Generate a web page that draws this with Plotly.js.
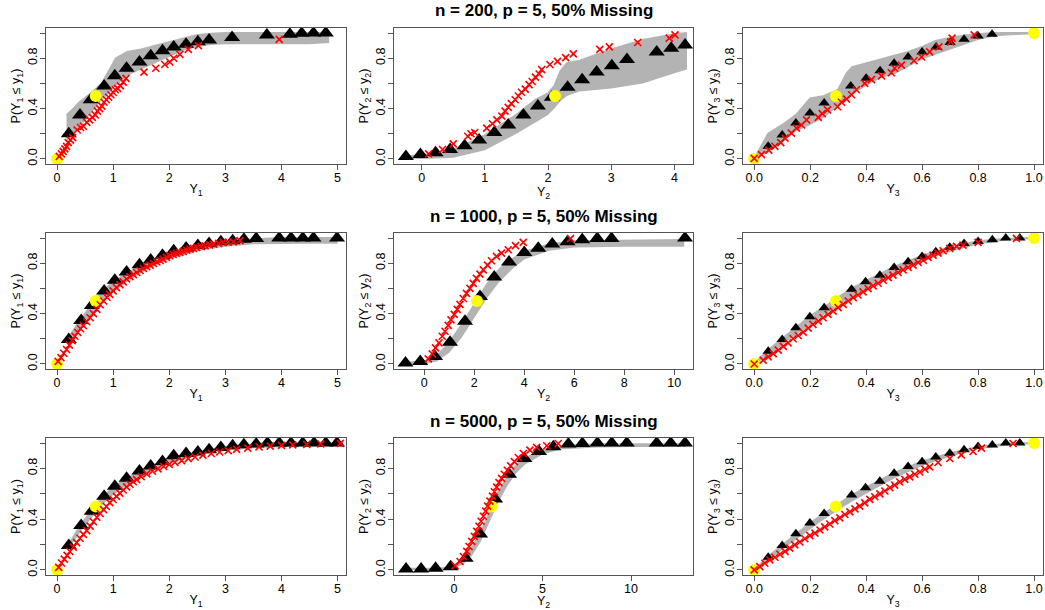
<!DOCTYPE html>
<html>
<head>
<meta charset="utf-8">
<script src="https://cdn.plot.ly/plotly-3.0.1.min.js"></script>
<style>html,body{margin:0;padding:0;background:#fff;}#chart{width:1045px;height:610px;}</style>
</head>
<body>
<div id="chart"></div>
<script>
// ---------- DATA ----------
const rowTitles = ["n = 200, p = 5, 50% Missing", "n = 1000, p = 5, 50% Missing", "n = 5000, p = 5, 50% Missing"];
const varIdx = ["1", "2", "3"];

// Yellow reference points (same per column)
const yel1_x = [0, 0.69], yel1_y = [0, 0.5];
const yel2_x = [2.11], yel2_y = [0.5];
const yel3_x = [0, 0.292, 1.0], yel3_y = [0, 0.5, 1.0];

// ----- Row 1 (n = 200) -----
const tri11_x = [0.21,0.41,0.60,0.84,1.03,1.24,1.47,1.67,1.88,2.08,2.30,2.51,2.71,3.12,3.74,4.15,4.36,4.57,4.79];
const tri11_y = [0.20,0.35,0.47,0.58,0.66,0.72,0.77,0.82,0.86,0.89,0.91,0.93,0.945,0.965,0.985,0.99,0.998,1.0,1.0];
const red11_x = [0.04,0.08,0.11,0.14,0.17,0.20,0.24,0.28,0.36,0.42,0.47,0.53,0.58,0.63,0.68,0.72,0.76,0.80,0.84,0.88,0.92,0.96,1.00,1.04,1.08,1.13,1.18,1.23,1.55,1.76,1.92,2.01,2.08,2.19,2.34,2.52,3.96];
const red11_y = [0.02,0.04,0.06,0.08,0.10,0.13,0.15,0.17,0.23,0.25,0.26,0.29,0.31,0.33,0.35,0.38,0.40,0.42,0.45,0.47,0.49,0.51,0.53,0.55,0.56,0.58,0.61,0.64,0.69,0.72,0.75,0.77,0.80,0.83,0.87,0.90,0.95];
const band11_x = [0.17,0.25,0.4,0.6,0.8,0.95,1.05,1.25,1.5,1.75,2.0,2.25,2.5,2.75,3.0,3.5,4.0,4.5,4.85];
const band11_hi = [0.35,0.38,0.45,0.52,0.60,0.72,0.80,0.85,0.87,0.90,0.93,0.96,0.985,0.995,1.0,1.0,1.0,1.0,1.0];
const band11_lo = [0.14,0.18,0.25,0.36,0.47,0.53,0.58,0.66,0.71,0.76,0.81,0.86,0.89,0.905,0.91,0.91,0.91,0.91,0.92];

const tri12_x = [-0.25,-0.02,0.22,0.45,0.68,0.91,1.15,1.37,1.61,1.84,2.06,2.31,2.54,2.77,3.01,3.25,3.72,3.95,4.17];
const tri12_y = [0.02,0.035,0.05,0.075,0.105,0.15,0.21,0.27,0.35,0.42,0.49,0.57,0.63,0.69,0.74,0.79,0.85,0.88,0.905];
const red12_x = [0.11,0.33,0.50,0.73,0.78,0.84,1.03,1.12,1.19,1.27,1.32,1.37,1.42,1.48,1.53,1.58,1.64,1.70,1.75,1.80,1.86,1.90,2.03,2.15,2.28,2.40,2.82,2.97,3.42,3.92,4.01];
const red12_y = [0.04,0.075,0.12,0.18,0.20,0.21,0.245,0.28,0.31,0.34,0.38,0.41,0.44,0.47,0.50,0.53,0.555,0.59,0.615,0.65,0.675,0.71,0.75,0.775,0.805,0.835,0.87,0.89,0.925,0.96,0.985];
const band12_x = [-0.3,0.0,0.5,1.0,1.5,1.8,2.0,2.1,2.2,2.3,2.5,3.0,3.5,4.0,4.2];
const band12_hi = [0.02,0.03,0.07,0.19,0.35,0.47,0.52,0.58,0.70,0.76,0.78,0.87,0.945,0.99,1.0];
const band12_lo = [0.0,0.0,0.01,0.07,0.20,0.29,0.35,0.40,0.46,0.50,0.535,0.56,0.60,0.68,0.71];

const tri13_x = [0.05,0.10,0.149,0.199,0.25,0.345,0.40,0.45,0.50,0.55,0.60,0.65,0.70,0.75,0.80,0.85];
const tri13_y = [0.10,0.19,0.285,0.365,0.445,0.58,0.64,0.70,0.76,0.81,0.85,0.89,0.925,0.95,0.977,0.99];
const red13_x = [0.0,0.026,0.052,0.074,0.095,0.11,0.133,0.151,0.169,0.187,0.229,0.243,0.262,0.298,0.312,0.33,0.348,0.365,0.395,0.419,0.455,0.49,0.502,0.526,0.571,0.598,0.627,0.66,0.702,0.707,0.786];
const red13_y = [0.005,0.034,0.07,0.10,0.13,0.165,0.205,0.245,0.27,0.31,0.33,0.36,0.39,0.415,0.45,0.475,0.51,0.55,0.60,0.63,0.66,0.685,0.72,0.745,0.78,0.81,0.85,0.89,0.93,0.96,0.985];
const band13_x = [0.0,0.05,0.1,0.15,0.2,0.25,0.3,0.33,0.35,0.4,0.45,0.5,0.55,0.6,0.65,0.7,0.75,0.8,0.85,0.9,1.0];
const band13_hi = [0.0,0.2,0.27,0.35,0.48,0.50,0.55,0.68,0.73,0.76,0.79,0.82,0.85,0.89,0.94,0.96,0.98,0.99,1.0,1.0,1.0];
const band13_lo = [0.0,0.05,0.13,0.22,0.27,0.33,0.42,0.47,0.51,0.58,0.64,0.67,0.73,0.79,0.83,0.87,0.91,0.945,0.97,0.98,0.99];

// ----- Row 2 (n = 1000) -----
const tri21_x = [0.21,0.43,0.62,0.84,1.03,1.24,1.47,1.67,1.88,2.08,2.30,2.51,2.71,2.92,3.13,3.33,3.55,3.96,4.17,4.38,4.57,4.99];
const tri21_y = [0.194,0.346,0.465,0.58,0.665,0.73,0.787,0.825,0.864,0.90,0.92,0.94,0.957,0.97,0.978,0.99,0.997,1.0,1.0,1.0,1.0,1.0];
const red21_x = [0.02,0.07,0.12,0.17,0.22,0.27,0.32,0.37,0.42,0.47,0.53,0.59,0.65,0.71,0.77,0.83,0.89,0.94,1.00,1.06,1.12,1.18,1.24,1.30,1.36,1.42,1.48,1.54,1.60,1.66,1.72,1.78,1.84,1.89,1.95,2.01,2.07,2.13,2.19,2.25,2.31,2.37,2.43,2.49,2.57,2.64,2.72,2.79,2.88,2.96,3.05,3.14,3.26];
const red21_y = [0.02,0.05,0.085,0.115,0.15,0.185,0.22,0.25,0.28,0.305,0.335,0.367,0.40,0.433,0.47,0.50,0.53,0.553,0.58,0.606,0.63,0.652,0.675,0.694,0.71,0.726,0.742,0.758,0.772,0.785,0.798,0.81,0.822,0.832,0.846,0.86,0.869,0.878,0.886,0.894,0.903,0.912,0.918,0.925,0.932,0.939,0.946,0.952,0.958,0.965,0.968,0.97,0.979];
const band21_x = [0.2,0.4,0.6,0.8,1.0,1.25,1.5,1.75,2.0,2.5,3.0,3.5,4.0,4.5,5.0];
const band21_hi = [0.20,0.34,0.46,0.57,0.65,0.72,0.78,0.83,0.88,0.935,0.97,0.99,1.0,1.0,1.0];
const band21_lo = [0.15,0.27,0.38,0.48,0.57,0.65,0.72,0.78,0.83,0.895,0.93,0.95,0.955,0.955,0.955];

const tri22_x = [-0.75,-0.16,0.43,1.03,1.63,2.23,2.80,3.39,4.00,4.56,5.12,5.73,6.32,6.92,7.49,10.43];
const tri22_y = [0.008,0.02,0.06,0.173,0.34,0.535,0.69,0.81,0.886,0.918,0.952,0.97,0.987,0.997,0.997,1.0];
const red22_x = [0.16,0.32,0.45,0.59,0.72,0.83,0.96,1.07,1.20,1.32,1.43,1.56,1.69,1.83,1.96,2.09,2.23,2.36,2.53,2.69,2.89,3.09,3.36,3.65,3.96,5.85];
const red22_y = [0.04,0.08,0.128,0.168,0.22,0.26,0.306,0.35,0.394,0.434,0.473,0.52,0.56,0.60,0.64,0.68,0.713,0.747,0.785,0.82,0.854,0.88,0.907,0.94,0.965,0.995];
const band22_x = [-0.8,0.0,0.5,1.0,1.5,2.0,2.5,3.0,3.5,4.0,5.0,6.0,8.0,10.4];
const band22_hi = [0.01,0.02,0.06,0.17,0.31,0.47,0.63,0.75,0.83,0.89,0.95,0.975,0.98,0.985];
const band22_lo = [0.0,0.0,0.02,0.09,0.21,0.37,0.52,0.65,0.75,0.83,0.90,0.925,0.93,0.93];

const tri23_x = [0.05,0.10,0.149,0.199,0.25,0.348,0.398,0.449,0.50,0.55,0.60,0.649,0.699,0.75,0.80,0.851,0.899,0.949];
const tri23_y = [0.10,0.194,0.287,0.375,0.447,0.593,0.652,0.705,0.766,0.811,0.854,0.891,0.926,0.957,0.973,0.987,1.0,1.0];
const red23_x = [0.0,0.032,0.05,0.068,0.086,0.104,0.121,0.139,0.157,0.175,0.193,0.21,0.229,0.246,0.264,0.282,0.30,0.318,0.336,0.354,0.371,0.389,0.407,0.425,0.443,0.461,0.479,0.496,0.514,0.532,0.55,0.568,0.586,0.604,0.621,0.639,0.657,0.675,0.699,0.723,0.746,0.80,0.937];
const red23_y = [0.0,0.03,0.056,0.082,0.11,0.14,0.168,0.20,0.226,0.253,0.285,0.314,0.34,0.367,0.394,0.42,0.447,0.473,0.50,0.527,0.548,0.572,0.598,0.62,0.641,0.665,0.686,0.705,0.726,0.747,0.766,0.785,0.806,0.824,0.846,0.864,0.88,0.899,0.918,0.934,0.944,0.965,0.997];
const band23_x = [0.0,0.05,0.1,0.15,0.2,0.25,0.3,0.35,0.4,0.5,0.6,0.7,0.8,0.9,1.0];
const band23_hi = [0.0,0.11,0.20,0.29,0.38,0.45,0.53,0.60,0.66,0.77,0.86,0.93,0.975,0.995,1.0];
const band23_lo = [0.0,0.06,0.15,0.23,0.31,0.39,0.46,0.53,0.60,0.71,0.81,0.89,0.95,0.98,0.995];

// ----- Row 3 (n = 5000) -----
const tri31_x = [0.21,0.43,0.62,0.84,1.03,1.24,1.47,1.67,1.88,2.08,2.30,2.51,2.71,2.92,3.13,3.33,3.55,3.75,3.96,4.17,4.38,4.58,4.79,4.99];
const tri31_y = [0.193,0.35,0.463,0.58,0.66,0.723,0.78,0.82,0.855,0.90,0.918,0.93,0.947,0.966,0.979,0.987,0.992,1.0,1.0,1.0,1.0,1.0,1.0,1.0];
const red31_x = [0.03,0.08,0.13,0.18,0.23,0.29,0.35,0.41,0.47,0.53,0.59,0.65,0.71,0.77,0.83,0.88,0.94,1.00,1.06,1.12,1.18,1.24,1.30,1.36,1.42,1.50,1.60,1.70,1.80,1.90,2.00,2.10,2.22,2.34,2.46,2.60,2.75,2.90,3.05,3.20,3.40,3.60,3.80,4.00,4.20,4.45,4.70,5.05];
const red31_y = [0.02,0.055,0.085,0.115,0.145,0.18,0.215,0.25,0.28,0.31,0.345,0.38,0.415,0.445,0.475,0.50,0.53,0.555,0.58,0.605,0.63,0.655,0.675,0.695,0.712,0.735,0.757,0.778,0.797,0.815,0.832,0.848,0.862,0.877,0.89,0.905,0.918,0.93,0.94,0.95,0.96,0.97,0.976,0.982,0.986,0.99,0.994,0.998];
const band31_x = [0.2,0.4,0.6,0.8,1.0,1.25,1.5,1.75,2.0,2.5,3.0,3.5,4.0,4.5,5.1];
const band31_hi = [0.19,0.34,0.46,0.57,0.65,0.72,0.78,0.83,0.88,0.93,0.97,0.99,1.0,1.0,1.0];
const band31_lo = [0.16,0.29,0.40,0.51,0.59,0.67,0.74,0.79,0.84,0.90,0.94,0.96,0.97,0.975,0.975];

const tri32_x = [-2.71,-1.86,-1.04,-0.19,0.66,1.47,2.32,3.11,3.97,4.80,5.61,6.46,7.25,8.10,8.91,9.76,11.45,12.24,13.05];
const tri32_y = [0.008,0.008,0.013,0.026,0.093,0.283,0.56,0.754,0.878,0.934,0.971,0.992,0.997,1.0,1.0,1.0,1.0,1.0,1.0];
const red32_x = [0.06,0.34,0.53,0.72,0.85,1.0,1.15,1.28,1.41,1.53,1.66,1.79,1.9,2.03,2.17,2.28,2.41,2.54,2.69,2.84,3.01,3.2,3.41,3.63,3.92,4.29,4.67,5.24,5.89];
const red32_y = [0.034,0.066,0.106,0.146,0.185,0.225,0.265,0.304,0.344,0.384,0.423,0.463,0.503,0.542,0.582,0.616,0.653,0.688,0.722,0.754,0.786,0.82,0.854,0.886,0.918,0.944,0.966,0.979,0.997];
const band32_x = [-2.7,-1.0,-0.2,0.5,1.0,1.5,2.0,2.5,3.0,3.5,4.0,5.0,6.0,8.0,10.0,13.1];
const band32_hi = [0.01,0.01,0.02,0.08,0.17,0.29,0.45,0.61,0.73,0.82,0.88,0.945,0.975,0.99,0.99,0.99];
const band32_lo = [0.0,0.0,0.0,0.04,0.11,0.22,0.37,0.53,0.66,0.76,0.83,0.91,0.95,0.965,0.97,0.97];

const tri33_x = [0.05,0.10,0.149,0.199,0.25,0.348,0.398,0.449,0.50,0.55,0.60,0.649,0.699,0.75,0.80,0.851,0.899,0.949];
const tri33_y = [0.10,0.193,0.286,0.37,0.444,0.59,0.648,0.70,0.762,0.815,0.852,0.89,0.92,0.947,0.973,0.984,1.0,1.0];
const red33_x = [0.0,0.02,0.038,0.056,0.074,0.092,0.11,0.127,0.145,0.163,0.181,0.199,0.217,0.235,0.252,0.27,0.288,0.306,0.324,0.342,0.36,0.377,0.395,0.413,0.431,0.449,0.467,0.485,0.502,0.52,0.538,0.556,0.574,0.592,0.61,0.627,0.657,0.699,0.74,0.782,0.812,0.925];
const red33_y = [0.0,0.026,0.053,0.079,0.10,0.124,0.146,0.172,0.198,0.22,0.246,0.27,0.29,0.315,0.339,0.362,0.389,0.41,0.437,0.458,0.481,0.503,0.529,0.556,0.577,0.60,0.622,0.648,0.669,0.693,0.714,0.733,0.754,0.772,0.794,0.812,0.847,0.878,0.907,0.934,0.96,0.997];
const band33_x = [0.0,0.05,0.1,0.15,0.2,0.25,0.3,0.35,0.4,0.5,0.6,0.7,0.8,0.9,1.0];
const band33_hi = [0.0,0.105,0.195,0.285,0.37,0.445,0.52,0.59,0.65,0.765,0.855,0.92,0.97,0.995,1.0];
const band33_lo = [0.0,0.07,0.16,0.24,0.32,0.40,0.47,0.54,0.60,0.72,0.82,0.895,0.95,0.98,0.995];

// Axis ticks
const col1Ticks = [0,1,2,3,4,5];
const col2Ticks = [[0,1,2,3,4],[0,2,4,6,8,10],[0,5,10]];
const col3Ticks = [0,0.2,0.4,0.6,0.8,1.0];
const col3TickText = ["0.0","0.2","0.4","0.6","0.8","1.0"];
const yTicks = [0,0.4,0.8];
const yTickText = ["0.0","0.4","0.8"];
const yMinorTicks = [0.2,0.6,1.0];

// ---------- LAYOUT GEOMETRY ----------
const W = 1045, H = 610;
const colPx = [[46,346],[394,693],[743,1043]];
const rowPx = [[28,164],[233,369],[438,575]];
const xRanges = [
  [[-0.196,5.15],[-0.438,4.295],[-0.04,1.032]],
  [[-0.196,5.15],[-1.21,10.75],[-0.04,1.032]],
  [[-0.196,5.15],[-3.39,13.50],[-0.04,1.032]]
];
const triSize = [14, 14, 10];

const panels = [
  [[band11_x,band11_lo,band11_hi,tri11_x,tri11_y,red11_x,red11_y,yel1_x,yel1_y],
   [band12_x,band12_lo,band12_hi,tri12_x,tri12_y,red12_x,red12_y,yel2_x,yel2_y],
   [band13_x,band13_lo,band13_hi,tri13_x,tri13_y,red13_x,red13_y,yel3_x,yel3_y]],
  [[band21_x,band21_lo,band21_hi,tri21_x,tri21_y,red21_x,red21_y,yel1_x,yel1_y],
   [band22_x,band22_lo,band22_hi,tri22_x,tri22_y,red22_x,red22_y,yel2_x,yel2_y],
   [band23_x,band23_lo,band23_hi,tri23_x,tri23_y,red23_x,red23_y,yel3_x,yel3_y]],
  [[band31_x,band31_lo,band31_hi,tri31_x,tri31_y,red31_x,red31_y,yel1_x,yel1_y],
   [band32_x,band32_lo,band32_hi,tri32_x,tri32_y,red32_x,red32_y,yel2_x,yel2_y],
   [band33_x,band33_lo,band33_hi,tri33_x,tri33_y,red33_x,red33_y,yel3_x,yel3_y]]
];

const FONT = "Liberation Sans, Arial, Helvetica, sans-serif";
const traces = [];
const layout = {
  width: W, height: H,
  margin: {l:0, r:0, t:0, b:0},
  paper_bgcolor: "#fff", plot_bgcolor: "#fff",
  showlegend: false,
  font: {family: FONT, size: 12.5, color: "#000"},
  annotations: []
};

let k = 0;
for (let r = 0; r < 3; r++) {
  for (let c = 0; c < 3; c++) {
    k++;
    const xa = "x" + (k === 1 ? "" : k), ya = "y" + (k === 1 ? "" : k);
    const p = panels[r][c];
    const v = varIdx[c];
    // band
    traces.push({x: p[0], y: p[1], xaxis: xa, yaxis: ya, type: "scatter", mode: "lines",
      line: {width: 0, color: "#b3b3b3"}, hoverinfo: "skip"});
    traces.push({x: p[0], y: p[2], xaxis: xa, yaxis: ya, type: "scatter", mode: "lines",
      line: {width: 2, color: "#b3b3b3"}, fill: "tonexty", fillcolor: "#b3b3b3", hoverinfo: "skip"});
    // black triangles
    traces.push({x: p[3], y: p[4], xaxis: xa, yaxis: ya, type: "scatter", mode: "markers",
      marker: {symbol: "triangle-up", size: triSize[c], color: "#000"}});
    // yellow points
    traces.push({x: p[7], y: p[8], xaxis: xa, yaxis: ya, type: "scatter", mode: "markers",
      marker: {symbol: "circle", size: 12, color: "#ffff00"}});
    // red crosses
    traces.push({x: p[5], y: p[6], xaxis: xa, yaxis: ya, type: "scatter", mode: "markers",
      marker: {symbol: "x-thin", size: 7, color: "#ff0000", line: {width: 1.6, color: "#ff0000"}}});

    const dx = [colPx[c][0]/W, colPx[c][1]/W];
    const dy = [1 - rowPx[r][1]/H, 1 - rowPx[r][0]/H];
    let tv, tt;
    if (c === 0) { tv = col1Ticks; tt = col1Ticks.map(String); }
    else if (c === 1) { tv = col2Ticks[r]; tt = col2Ticks[r].map(String); }
    else { tv = col3Ticks; tt = col3TickText; }
    const axCommon = {showgrid: false, zeroline: false, showline: true, mirror: true,
      linecolor: "#555", linewidth: 1, ticks: "outside", ticklen: 5, tickcolor: "#555", tickwidth: 1,
      tickfont: {family: FONT, size: 12.5, color: "#000"}, fixedrange: true};
    layout["xaxis" + (k === 1 ? "" : k)] = Object.assign({}, axCommon, {
      domain: dx, anchor: ya, range: xRanges[r][c], tickmode: "array", tickvals: tv, ticktext: tt,
      ticklabelstandoff: -3,
      title: {text: "Y<sub>" + v + "</sub>", font: {family: FONT, size: 12.5, color: "#000"}, standoff: 0}
    });
    layout["yaxis" + (k === 1 ? "" : k)] = Object.assign({}, axCommon, {
      domain: dy, anchor: xa, range: [-0.04, 1.04], tickmode: "array", tickvals: yTicks, ticktext: yTickText,
      tickangle: -90, ticklabelstandoff: -2,
      minor: {tickmode: "array", tickvals: yMinorTicks, ticks: "outside", ticklen: 5, tickcolor: "#555", tickwidth: 1, showgrid: false},
      title: {text: "P(Y<sub>" + v + "</sub> \u2264 y<sub>" + v + "</sub>)", font: {family: FONT, size: 12.5, color: "#000"}, standoff: 2}
    });
  }
  layout.annotations.push({text: "<b>" + rowTitles[r] + "</b>", xref: "paper", yref: "paper",
    x: 544/W, y: 1 - (rowPx[r][0] - 17)/H, xanchor: "center", yanchor: "middle", showarrow: false,
    font: {family: FONT, size: 17, color: "#000"}});
}

Plotly.newPlot("chart", traces, layout, {displayModeBar: false, staticPlot: true});
</script>
</body>
</html>
